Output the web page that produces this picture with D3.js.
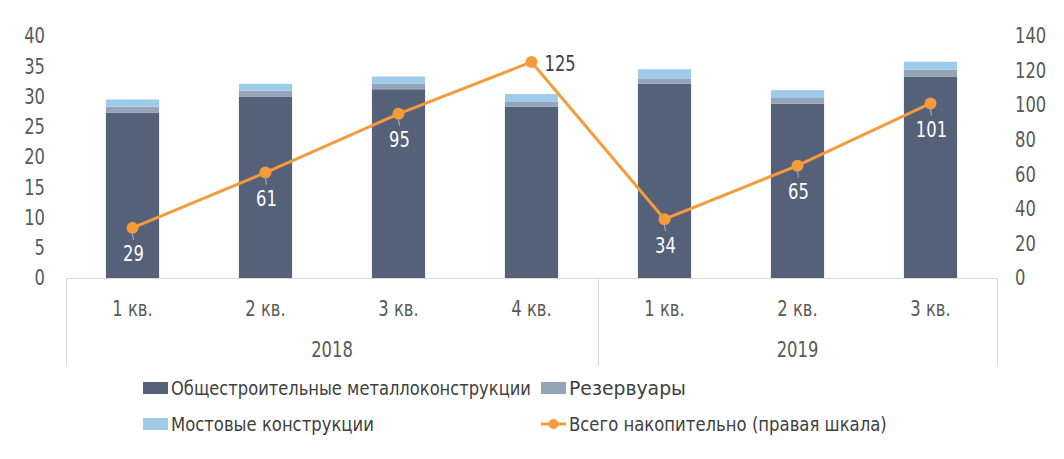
<!DOCTYPE html>
<html><head><meta charset="utf-8">
<script src="https://cdn.jsdelivr.net/npm/d3@7"></script>
<style>
body{margin:0;background:#fff;}
svg text{font-family:"DejaVu Sans",sans-serif;}
</style></head>
<body><svg id="c" width="1064" height="459"></svg>
<script>
const quarters = ["1 кв.","2 кв.","3 кв.","4 кв.","1 кв.","2 кв.","3 кв."];
const years = ["2018","2019"];
const general = [27.3, 30.0, 31.2, 28.3, 32.1, 28.8, 33.3];
const tanks = [1.0, 0.95, 0.9, 0.8, 0.9, 0.95, 1.15];
const bridges = [1.2, 1.15, 1.2, 1.3, 1.5, 1.3, 1.3];
const cumulative = [29, 61, 95, 125, 34, 65, 101];
const leftTicks = [0,5,10,15,20,25,30,35,40];
const rightTicks = [0,20,40,60,80,100,120,140];
const seriesNames = ["Общестроительные металлоконструкции","Резервуары","Мостовые конструкции","Всего накопительно (правая шкала)"];
const colors = ["#556079","#96a4b9","#9ecbea","#f59b3b"];

const svg = d3.select("#c");
const x0 = 66, x1 = 997, yTop = 36, yBot = 278;
const x = d3.scaleBand().domain(d3.range(quarters.length)).range([x0,x1]).paddingInner(0.6).paddingOuter(0.3);
const yL = d3.scaleLinear().domain([0,40]).range([yBot,yTop]);
const yR = d3.scaleLinear().domain([0,140]).range([yBot,yTop]);
const textCol = "#595959";
const SX = 0.78;
const pos = (px,py,s)=>`translate(${px},${py}) scale(${s||SX},1)`;

// left axis
svg.append("g").selectAll("text").data(leftTicks).join("text")
  .attr("transform",d=>pos(45,yL(d))).attr("dy","0.35em").attr("text-anchor","end")
  .attr("font-size",21).attr("fill",textCol).text(d=>d);
// right axis
svg.append("g").selectAll("text").data(rightTicks).join("text")
  .attr("transform",d=>pos(1015,yR(d))).attr("dy","0.35em").attr("text-anchor","start")
  .attr("font-size",21).attr("fill",textCol).text(d=>d);

// stacked bars
const stackData = quarters.map((q,i)=>({i, a:general[i], b:tanks[i], c:bridges[i]}));
const stack = d3.stack().keys(["a","b","c"])(stackData);
svg.append("g").selectAll("g").data(stack).join("g").attr("fill",(d,k)=>colors[k])
  .selectAll("rect").data(d=>d).join("rect")
  .attr("x",d=>x(d.data.i)).attr("width",x.bandwidth())
  .attr("y",d=>yL(d[1])).attr("height",d=>yL(d[0])-yL(d[1]));

// category axis
const ax = svg.append("g").attr("stroke","#d9d9d9").attr("stroke-width",1);
ax.append("line").attr("x1",x0).attr("x2",x1).attr("y1",yBot+0.5).attr("y2",yBot+0.5);
const seps = [x0, (x(3)+x(4)+x.bandwidth())/2, x1];
ax.selectAll(".s").data(seps).join("line").attr("x1",d=>Math.round(d)+0.5).attr("x2",d=>Math.round(d)+0.5)
  .attr("y1",yBot).attr("y2",366);
svg.append("g").selectAll("text").data(quarters).join("text")
  .attr("transform",(d,i)=>pos(x(i)+x.bandwidth()/2,309)).attr("dy","0.35em").attr("text-anchor","middle")
  .attr("font-size",21).attr("fill",textCol).text(d=>d);
svg.append("g").selectAll("text").data(years).join("text")
  .attr("transform",(d,k)=>pos((seps[k]+seps[k+1])/2,350)).attr("dy","0.35em").attr("text-anchor","middle")
  .attr("font-size",21).attr("fill",textCol).text(d=>d);

// line
const cx = i=>x(i)+x.bandwidth()/2;
const line = d3.line().x((d,i)=>cx(i)).y(d=>yR(d));
svg.append("path").datum(cumulative).attr("d",line).attr("fill","none").attr("stroke",colors[3]).attr("stroke-width",3);
svg.append("g").selectAll("circle").data(cumulative).join("circle")
  .attr("cx",(d,i)=>cx(i)).attr("cy",d=>yR(d)).attr("r",6).attr("fill",colors[3]);
// labels
const lab = svg.append("g");
cumulative.forEach((v,i)=>{
  if(i===3){
    lab.append("text").attr("transform",pos(cx(i)+13,yR(v)+2)).attr("dy","0.35em")
      .attr("font-size",21).attr("fill","#404040").text(v);
  } else {
    lab.append("line").attr("x1",cx(i)).attr("x2",cx(i)+1).attr("y1",yR(v)+6).attr("y2",yR(v)+12)
      .attr("stroke","#b0b7c3").attr("stroke-width",1);
    lab.append("text").attr("transform",pos(cx(i)+1,yR(v)+26)).attr("dy","0.35em").attr("text-anchor","middle")
      .attr("font-size",21).attr("fill","#ffffff").text(v);
  }
});

// legend
const leg = svg.append("g");
const items = [
  {k:0,x:143,y:388,w:360},{k:1,x:541,y:388,w:117},{k:2,x:143,y:424,w:203},{k:3,x:541,y:424,w:318}
];
items.forEach(it=>{
  if(it.k<3){
    leg.append("rect").attr("x",it.x).attr("y",it.y-6).attr("width",25).attr("height",12).attr("fill",colors[it.k]);
  } else {
    leg.append("line").attr("x1",it.x).attr("x2",it.x+25).attr("y1",it.y).attr("y2",it.y).attr("stroke",colors[3]).attr("stroke-width",3);
    leg.append("circle").attr("cx",it.x+12.5).attr("cy",it.y).attr("r",5).attr("fill",colors[3]);
  }
  const t = leg.append("text").attr("dy","0.35em").attr("font-size",20)
    .attr("fill","#404040").text(seriesNames[it.k]);
  const nat = t.node().getComputedTextLength();
  t.attr("transform",pos(it.x+28,it.y,it.w/nat));
});
</script></body></html>
